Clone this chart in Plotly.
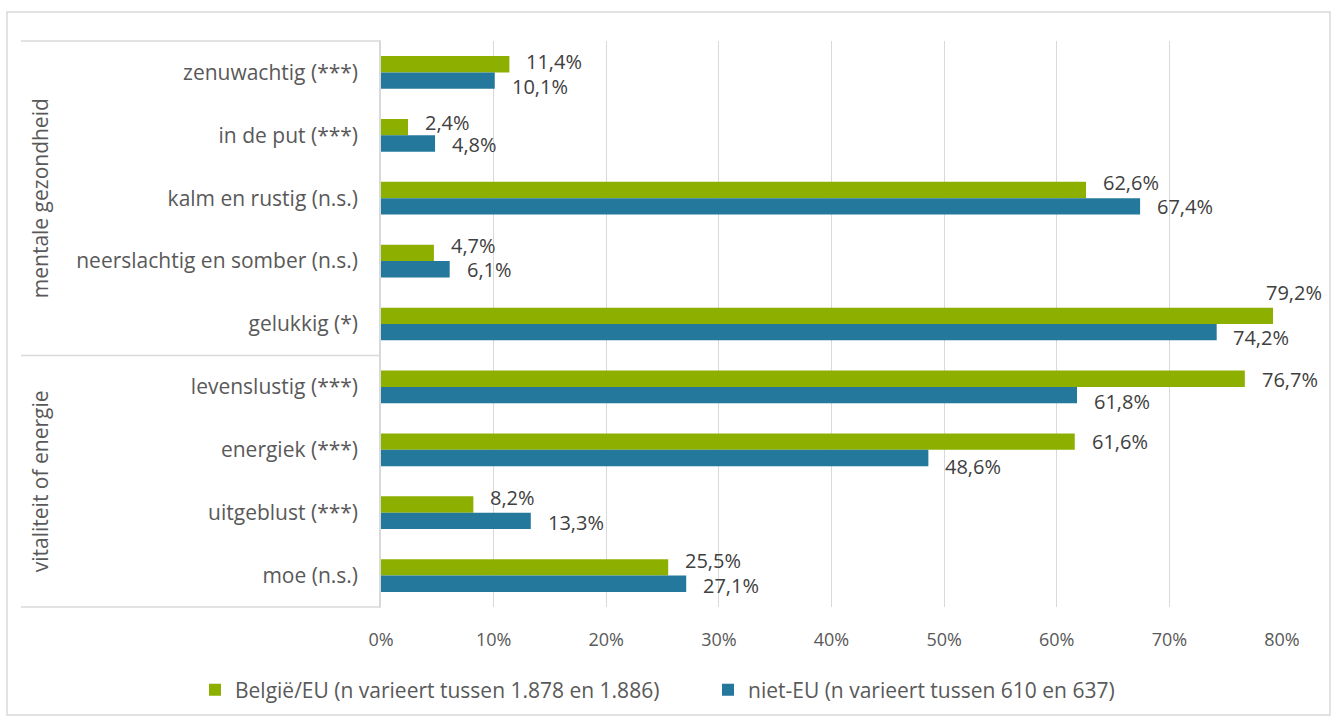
import plotly.graph_objects as go

# ---------------- data ----------------
categories = [
    "zenuwachtig (***)",
    "in de put (***)",
    "kalm en rustig (n.s.)",
    "neerslachtig en somber (n.s.)",
    "gelukkig (*)",
    "levenslustig (***)",
    "energiek (***)",
    "uitgeblust (***)",
    "moe (n.s.)",
]
group_names = ["mentale gezondheid", "vitaliteit of energie"]
group_sizes = [5, 4]

belgie_eu = [11.4, 2.4, 62.6, 4.7, 79.2, 76.7, 61.6, 8.2, 25.5]
niet_eu = [10.1, 4.8, 67.4, 6.1, 74.2, 61.8, 48.6, 13.3, 27.1]
series_names = [
    "België/EU (n varieert tussen 1.878 en 1.886)",
    "niet-EU (n varieert tussen 610 en 637)",
]

x_tick_values = [0, 10, 20, 30, 40, 50, 60, 70, 80]
x_tick_labels = ["0%", "10%", "20%", "30%", "40%", "50%", "60%", "70%", "80%"]

# ---------------- styling ----------------
W, H = 1336, 722
ML, MR, MT, MB = 381, 54, 41, 115
PW, PH = W - ML - MR, H - MT - MB
GREEN = "#8db000"
BLUE = "#23789b"
GRID = "#d9d9d9"
TXT = "#595959"
LBL = "#404040"
FONT = "Open Sans"
FS_CAT = 21
FS_LBL = 20
FS_TICK = 18

# manual label nudges (pixels) as in the original Excel chart: (dx, dy_down)
green_nudge = [(16, -1.5), (16, -3.5), (16, -6.6), (16, -6.6), (-8, -22), (16, 2), (16, 0.7), (16, -6), (16, -5.5)]
blue_nudge = [(16, 6.5), (16, 1.5), (16, 1), (16, 1.3), (15, 6.5), (16, 7.5), (16, 9.5), (16, 3), (16, 2.4)]


def px_x(px):
    return (px - ML) / PW


def px_y(py):
    return (H - MB - py) / PH


def fmt(v):
    return f"{v:.1f}".replace(".", ",") + "%"


fig = go.Figure()
fig.add_trace(go.Bar(y=categories, x=belgie_eu, orientation="h", name=series_names[0],
                     marker=dict(color=GREEN, line=dict(width=0))))
fig.add_trace(go.Bar(y=categories, x=niet_eu, orientation="h", name=series_names[1],
                     marker=dict(color=BLUE, line=dict(width=0))))

bargap = 0.48
half_bar_px = PH / len(categories) * (1 - bargap) / 4  # centre offset of each bar in a group

annotations = []
for i, cat in enumerate(categories):
    dx, dy = green_nudge[i]
    annotations.append(dict(x=belgie_eu[i], y=cat, xref="x", yref="y", text=fmt(belgie_eu[i]),
                            showarrow=False, xanchor="left", yanchor="middle", borderpad=0,
                            xshift=dx, yshift=half_bar_px - dy + 1,
                            font=dict(family=FONT, size=FS_LBL, color=LBL)))
    dx, dy = blue_nudge[i]
    annotations.append(dict(x=niet_eu[i], y=cat, xref="x", yref="y", text=fmt(niet_eu[i]),
                            showarrow=False, xanchor="left", yanchor="middle", borderpad=0,
                            xshift=dx, yshift=-half_bar_px - dy + 1,
                            font=dict(family=FONT, size=FS_LBL, color=LBL)))

# group labels (rotated) and separators of the left "table"
shapes = []
start = 0
n = len(categories)
for g, size in zip(group_names, group_sizes):
    centre = start + (size - 1) / 2
    annotations.append(dict(x=px_x(40), y=1 - (centre + 0.5) / n, xref="paper", yref="paper",
                            text=g, textangle=-90, showarrow=False,
                            xanchor="center", yanchor="middle",
                            font=dict(family=FONT, size=FS_CAT, color=TXT)))
    start += size

bounds = [0]
for s in group_sizes:
    bounds.append(bounds[-1] + s)
for b in bounds:
    yb = 1 - b / n
    shapes.append(dict(type="line", xref="paper", yref="paper", x0=px_x(21), x1=0, y0=yb, y1=yb,
                       line=dict(color=GRID, width=1.5)))

# outer chart border
shapes.append(dict(type="rect", xref="paper", yref="paper",
                   x0=px_x(7), x1=px_x(1330), y0=px_y(715), y1=px_y(12),
                   line=dict(color=GRID, width=1.5), fillcolor="rgba(0,0,0,0)", layer="below"))

fig.update_layout(
    width=W, height=H,
    margin=dict(l=ML, r=MR, t=MT, b=MB, autoexpand=False),
    paper_bgcolor="white", plot_bgcolor="white",
    barmode="group", bargap=bargap, bargroupgap=0,
    font=dict(family=FONT, size=FS_CAT, color=TXT),
    showlegend=True,
    legend=dict(orientation="h", x=px_x(195), xanchor="left", y=px_y(690), yanchor="middle",
                font=dict(family=FONT, size=FS_CAT, color=TXT), traceorder="normal",
                itemwidth=30, entrywidth=468, bgcolor="rgba(0,0,0,0)"),
    annotations=annotations,
    shapes=shapes,
)
fig.update_xaxes(range=[0, 80], tickvals=x_tick_values, ticktext=x_tick_labels,
                 showgrid=True, gridcolor=GRID, gridwidth=1.3, zeroline=False, showline=False,
                 ticks="", ticklabelstandoff=20, automargin=False,
                 tickfont=dict(family=FONT, size=FS_TICK, color=TXT), fixedrange=True)
fig.update_yaxes(type="category", categoryorder="array", categoryarray=categories,
                 autorange="reversed", showgrid=False, zeroline=False,
                 showline=True, linecolor=GRID, linewidth=1.5,
                 ticks="", ticklabelstandoff=17, automargin=False,
                 tickfont=dict(family=FONT, size=FS_CAT, color=TXT), fixedrange=True)

fig.write_html("out.html", config={"displayModeBar": False},
               post_script="document.body.style.margin='0';")
